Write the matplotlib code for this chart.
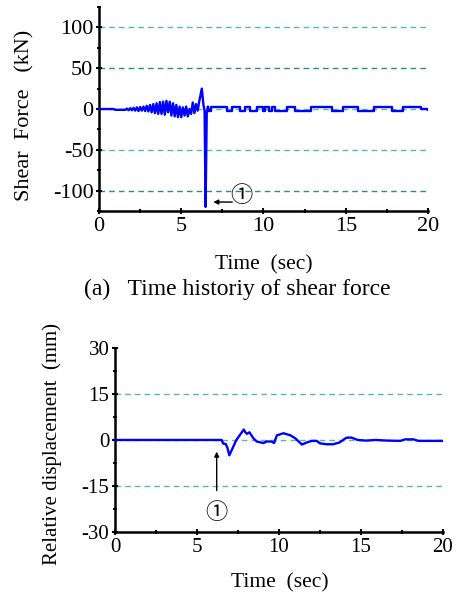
import numpy as np
import matplotlib
matplotlib.use("Agg")
import matplotlib.pyplot as plt
from matplotlib.ticker import MultipleLocator

plt.rcParams["font.family"] = ["Liberation Serif", "Noto Sans CJK JP", "DejaVu Sans"]
plt.rcParams["axes.unicode_minus"] = False

# (a) shear force, oscillating part before failure
shear_t = [0.0, 0.9, 1.0, 1.6,
           1.7, 1.8, 1.9, 2.0, 2.1, 2.2, 2.3, 2.4, 2.5, 2.6, 2.7, 2.8, 2.9, 3.0,
           3.1, 3.2, 3.3, 3.4, 3.5, 3.6, 3.7, 3.8, 3.9, 4.0, 4.1, 4.2, 4.3, 4.4,
           4.5, 4.6, 4.7, 4.8, 4.9, 5.0, 5.1, 5.2, 5.3, 5.4, 5.5, 5.6, 5.7, 5.8,
           5.9, 6.0, 6.1,
           6.25, 6.35, 6.42, 6.48, 6.55, 6.62, 6.7]
shear_v = [0.0, 0.0, -1.0, -1.0,
           0.5, -1.5, 1.0, -1.5, 1.5, -2.0, 2.0, -2.5, 2.5, -2.0, 3.0, -2.5, 4.0, -3.0,
           5.0, -4.0, 6.0, -5.0, 7.0, -6.0, 8.5, -6.0, 9.0, -7.0, 10.0, -4.0, 9.0, -8.0,
           7.0, -9.0, 5.0, -10.0, 3.0, -10.0, 2.0, -8.0, 3.0, -9.0, 0.0, -6.0, 8.0, -5.0,
           6.0, -2.0, 10.0,
           25.0, 5.0, -2.0, -120.0, -5.0, 3.0, -2.0]

# (a) shear force after failure: square-wave like levels
step_t = [6.7, 6.8, 7.8, 8.1, 8.55, 8.9, 9.2, 9.6, 9.95, 10.1, 10.35, 10.5,
          10.7, 11.4, 11.9, 12.9, 14.15, 14.85, 15.75, 16.7, 17.8, 18.5, 19.6, 20.0]
step_v = [-2.0, 3.0, -3.0, 3.0, -3.0, 3.0, -3.0, 3.0, -3.0, 3.0, -3.0, 3.0,
          -3.0, 3.0, -3.0, 3.0, -3.0, 3.0, -3.0, 3.0, -3.0, 3.0, 0.0, -1.0]

# (b) relative displacement
disp_t = [0.0, 6.5, 6.6, 6.75, 6.85, 6.97, 7.1, 7.4, 7.6, 7.85, 7.95, 8.05, 8.2,
          8.43, 8.64, 9.05, 9.25, 9.55, 9.7, 9.87, 10.27, 10.7, 11.0, 11.4, 11.7,
          12.0, 12.3, 12.5, 12.9, 13.3, 13.7, 14.1, 14.4, 14.8, 15.3, 15.9, 16.6,
          17.4, 17.7, 18.2, 18.5, 20.0]
disp_v = [0.0, 0.0, -1.2, -1.3, -2.5, -5.0, -3.5, 0.0, 1.5, 3.4, 2.5, 2.0, 2.5,
          0.6, -0.5, -1.0, -0.5, -0.5, -1.0, 1.5, 2.2, 1.5, 0.5, -1.5, -0.8,
          -0.3, -0.3, -1.1, -1.4, -1.4, -0.8, 0.7, 0.8, 0.0, -0.2, 0.0, -0.2,
          -0.3, 0.2, 0.2, -0.3, -0.3]

LINE = "#0000ff"
GRID_LIGHT = "#55b8b0"
GRID_DARK = "#2f8a82"


def style_axes(ax, size):
    for s in ("top", "right"):
        ax.spines[s].set_visible(False)
    for s in ("left", "bottom"):
        ax.spines[s].set_linewidth(1.8)
    ax.tick_params(which="major", direction="inout", length=5, width=1.5,
                   labelsize=size, pad=1.5)
    ax.tick_params(which="minor", direction="inout", length=3, width=1.5)
    ax.xaxis.set_major_locator(MultipleLocator(5))
    ax.xaxis.set_minor_locator(MultipleLocator(2.5))
    ax.set_xlim(0, 20)


fig = plt.figure(figsize=(4.63, 5.99), dpi=100)

# top panel
ax1 = fig.add_axes([0.2138, 0.6477, 0.7106, 0.3406])
for y, c in zip([100, 50, 0, -50, -100],
                [GRID_LIGHT, GRID_DARK, GRID_LIGHT, GRID_LIGHT, GRID_DARK]):
    ax1.axhline(y, color=c, ls=(0, (4, 3)), lw=1.0, zorder=1)
ax1.plot(shear_t, shear_v, color=LINE, lw=1.7, zorder=3)
ax1.plot(step_t, step_v, color=LINE, lw=1.7, drawstyle="steps-post", zorder=3)
ax1.set_ylim(-125, 125)
ax1.yaxis.set_major_locator(MultipleLocator(50))
ax1.yaxis.set_minor_locator(MultipleLocator(25))
style_axes(ax1, 16)
ax1.annotate("", xy=(6.95, -114), xytext=(8.1, -114),
             arrowprops=dict(arrowstyle="-|>", color="black", lw=1.0,
                             mutation_scale=7, shrinkA=0, shrinkB=0))
ax1.text(8.65, -106, "\u2460", fontsize=16, ha="center", va="center",
         family=["Noto Sans CJK JP", "DejaVu Sans"])

fig.text(0.569, 0.557, "Time  (sec)", fontsize=15.5, ha="center", va="center")
fig.text(0.054, 0.808, "Shear  Force   (kN)", fontsize=16, ha="center",
         va="center", rotation=90)
fig.text(0.513, 0.517, "(a)   Time historiy of shear force", fontsize=17,
         ha="center", va="center")

# bottom panel
ax2 = fig.add_axes([0.2484, 0.1119, 0.7084, 0.3072])
for y in [15, 0, -15]:
    ax2.axhline(y, color=GRID_LIGHT, ls=(0, (4, 3)), lw=1.0, zorder=1)
ax2.plot(disp_t, disp_v, color=LINE, lw=1.7, zorder=3)
ax2.set_ylim(-30, 30)
ax2.yaxis.set_major_locator(MultipleLocator(15))
ax2.yaxis.set_minor_locator(MultipleLocator(7.5))
style_axes(ax2, 15)
ax2.annotate("", xy=(6.2, -3.8), xytext=(6.2, -16.5),
             arrowprops=dict(arrowstyle="-|>", color="black", lw=1.0,
                             mutation_scale=7, shrinkA=0, shrinkB=0))
ax2.text(6.2, -23.5, "\u2460", fontsize=16, ha="center", va="center",
         family=["Noto Sans CJK JP", "DejaVu Sans"])

fig.text(0.605, 0.027, "Time  (sec)", fontsize=15.5, ha="center", va="center")
fig.text(0.113, 0.259, "Relative displacement  (mm)", fontsize=15,
         ha="center", va="center", rotation=90)

fig.savefig("out.png", dpi=100)
